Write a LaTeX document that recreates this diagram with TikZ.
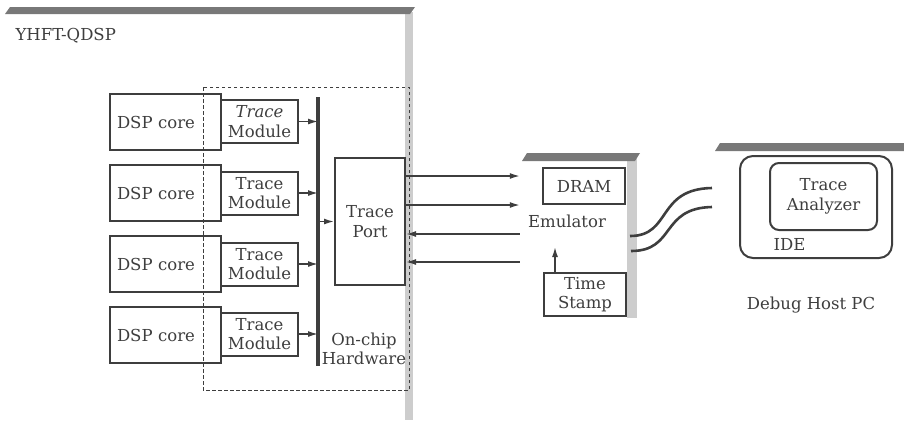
\documentclass[tikz,border=0pt]{standalone}
\usepackage{fontspec}
\setmainfont{DejaVu Serif}
\usetikzlibrary{arrows.meta,calc,positioning}
\definecolor{ink}{RGB}{62,62,62}
\definecolor{shelftop}{RGB}{120,120,120}
\definecolor{shelfside}{RGB}{205,205,205}

\begin{document}
\begin{tikzpicture}[
  x=1pt, y=-1pt,
  font=\fontsize{16.5}{19.5}\selectfont, text=ink,
  blk/.style={draw=ink, line width=2pt, inner sep=0pt, align=center},
  core/.style={blk, minimum width=111pt, minimum height=56pt, inner xsep=7pt, text width=97pt, align=left},
  tmod/.style={blk, minimum width=77pt, minimum height=43pt},
  ebox/.style={blk, minimum width=82pt},
  arr/.style={-{Latex[length=10pt,width=6pt]}, draw=ink, line width=1.5pt},
  cable/.style={draw=ink, line width=2.6pt},
  shelf/.style={fill=shelftop, draw=none},
  side/.style={fill=shelfside, draw=none}
]
\useasboundingbox (0,0) rectangle (904,424);

% chip shelf
\fill[side] (405,12) rectangle (413,420);
\fill[shelf] (5,14) -- (10,7) -- (415,7) -- (410,14) -- cycle;
\node[anchor=west] (chip) at (12,36) {YHFT-QDSP};

% on-chip hardware region
\draw[ink, line width=1pt, dash pattern=on 3.5pt off 2.5pt] (203,87) rectangle (409,390);

\node[core] (core1) at (165.5,122) {DSP core};
\node[core] (core2) at (165.5,193) {DSP core};
\node[core] (core3) at (165.5,264) {DSP core};
\node[core] (core4) at (165.5,335) {DSP core};

\node[tmod] (tm1) at (259.5,121.5) {\textit{Trace}\\Module};
\node[tmod] (tm2) at (259.5,193) {Trace\\Module};
\node[tmod] (tm3) at (259.5,264) {Trace\\Module};
\node[tmod] (tm4) at (259.5,334) {Trace\\Module};

\coordinate (busTop) at (318,97);
\coordinate (busBot) at (318,366);
\draw[ink, line width=3.2pt] (busTop) -- (busBot);

\draw[arr] (tm1.east) -- (tm1.east -| busTop);
\draw[arr] (tm2.east) -- (tm2.east -| busTop);
\draw[arr] (tm3.east) -- (tm3.east -| busTop);
\draw[arr] (tm4.east) -- (tm4.east -| busTop);

\node[blk, minimum width=70pt, minimum height=127pt] (port) at (370,221.5) {Trace\\Port};
\draw[arr] (port.west -| busTop) -- (port.west);
\node[align=center] (onchip) at (364,349) {On-chip\\Hardware};

% emulator shelf
\fill[side] (627,157) rectangle (637,318);
\fill[shelf] (522,161) -- (527,153) -- (640,153) -- (635,161) -- cycle;
\node[inner sep=0pt, minimum width=117pt, minimum height=165pt] (emupanel) at (578.5,235.5) {};
\node[ebox, minimum height=36pt] (dram) at (584,186) {DRAM};
\node (emulabel) at (567,221) {Emulator};
\node[ebox, minimum height=43pt] (stamp) at (585,294.5) {Time\\Stamp};
\coordinate (stampTip) at (555,247);
\draw[arr] (stamp.north -| stampTip) -- (stampTip);

\draw[arr] (port.east |- 0,176) -- (emupanel.west |- 0,176);
\draw[arr] (port.east |- 0,205) -- (emupanel.west |- 0,205);
\draw[arr] (emupanel.west |- 0,234) -- (port.east |- 0,234);
\draw[arr] (emupanel.west |- 0,262) -- (port.east |- 0,262);

% host shelf
\fill[shelf] (715,151) -- (720,143) -- (904,143) -- (904,151) -- cycle;
\node[blk, rounded corners=13pt, minimum width=152pt, minimum height=102pt] (ide) at (816,207) {};
\node[blk, rounded corners=9pt, minimum width=107pt, minimum height=67pt] (analyzer) at (823.5,196.5) {Trace\\Analyzer};
\node[anchor=west] (idelabel) at (770,244) {IDE};
\node (host) at (811,305) {Debug Host PC};

% cables
\coordinate (cabA1) at (630,236);
\coordinate (cabA2) at (712,188);
\coordinate (cabB1) at (631,251);
\coordinate (cabB2) at (712,207);
\draw[cable] (cabA1) .. controls (672,236) and (656,189) .. (cabA2);
\draw[cable] (cabB1) .. controls (676,251) and (660,208) .. (cabB2);
\end{tikzpicture}
\end{document}
